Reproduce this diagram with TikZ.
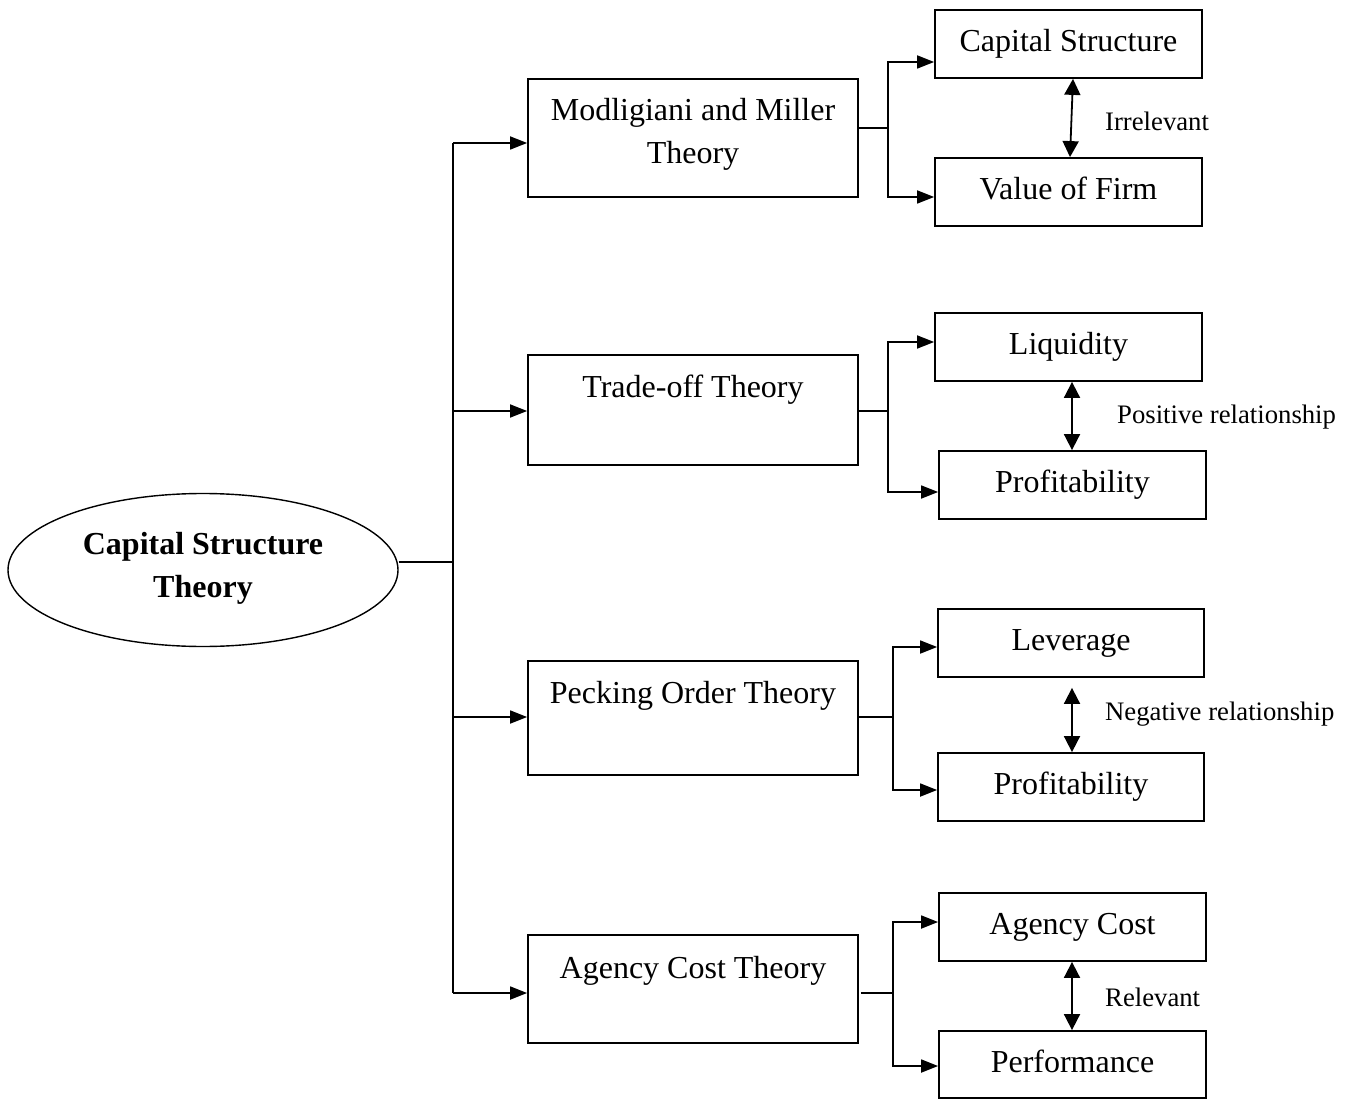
\documentclass[tikz,border=0pt]{standalone}
\usepackage{fontspec}
\setmainfont{Liberation Serif}
\usetikzlibrary{shapes.geometric,arrows.meta,calc}
\begin{document}
\begin{tikzpicture}[x=1pt,y=-1pt,
  box/.style={draw,line width=1.8pt,inner sep=0pt,minimum width=#1,minimum height=68pt,
    text height=22pt,text depth=7pt,font=\fontsize{32}{43}\selectfont},
  box/.default=267pt,
  mbox/.style={draw,line width=1.8pt,inner sep=0pt,minimum width=330pt,minimum height=#1},
  mtext/.style={font=\fontsize{32}{43}\selectfont,align=center,inner sep=0pt},
  lbl/.style={font=\fontsize{26.7}{32}\selectfont,anchor=west,inner sep=0pt},
  conn/.style={line width=1.8pt},
  arr/.style={line width=1.8pt,-{Triangle[length=17pt,width=13pt]}},
  dbl/.style={line width=1.8pt,{Triangle[length=16pt,width=16pt]}-{Triangle[length=16pt,width=16pt]}}
]
\useasboundingbox (0,0) rectangle (1355,1099);

% central ellipse
\node[ellipse,draw,line width=1.4pt,minimum width=390pt,minimum height=153pt,inner sep=0pt] (ce) at (203,570) {};
\node[mtext,font=\bfseries\fontsize{32}{43}\selectfont] (cetxt) at (203,568.5) {Capital Structure\\Theory};

% middle boxes
\node[mbox=118pt] (m1) at (693,138) {};
\node[mtext] (m1t) at (693,134.5) {Modligiani and Miller\\Theory};
\node[mbox=110pt] (m2) at (693,410) {};
\node[mtext] (m2t) at (693,390) {Trade-off Theory};
\node[mbox=114pt] (m3) at (693,718) {};
\node[mtext] (m3t) at (693,696) {Pecking Order Theory};
\node[mbox=108pt] (m4) at (693,989) {};
\node[mtext] (m4t) at (693,971) {Agency Cost Theory};

% right boxes
\node[box] (cs) at (1068.5,44) {Capital Structure};
\node[box] (vf) at (1068.5,192) {Value of Firm};
\node[box] (lq) at (1068.5,347) {Liquidity};
\node[box] (pa) at (1072.5,485) {Profitability};
\node[box=266pt] (lv) at (1071,643) {Leverage};
\node[box=266pt] (pb) at (1071,787) {Profitability};
\node[box] (ac) at (1072.5,927) {Agency Cost};
\node[box,minimum height=67pt] (pf) at (1072.5,1064.5) {Performance};

% trunk
\coordinate (tj) at (453,562);
\coordinate (tt) at (453,143);
\coordinate (tb) at (453,993);
\draw[conn] ($(ce.east)+(0,-8)$) -- (tj);
\draw[conn] (tt) -- (tb);
\draw[arr] (tt) -- ($(m1.west)+(0,5)$);
\draw[arr] (453,411) coordinate (t2) -- (m2.west |- t2);
\draw[arr] (453,717) coordinate (t3) -- (m3.west |- t3);
\draw[arr] (tb) -- (m4.west |- tb);

% group 1
\coordinate (j1) at (888,128);
\draw[conn] (m1.east |- j1) -- (j1);
\draw[arr] (j1) |- ($(cs.west)+(0,18)$);
\draw[arr] (j1) |- ($(vf.west)+(0,5)$);
\draw[dbl] ($(cs.south)+(4.5,0)$) -- ($(vf.north)+(1.5,0)$);
\node[lbl] (l1) at (1105,121) {Irrelevant};

% group 2
\coordinate (j2) at (888,411);
\draw[conn] (m2.east |- j2) -- (j2);
\draw[arr] (j2) |- ($(lq.west)+(0,-5)$);
\draw[arr] (j2) |- ($(pa.west)+(0,7)$);
\draw[dbl] ($(lq.south)+(3.5,0)$) -- ($(pa.north)+(-0.5,0)$);
\node[lbl] (l2) at (1117,417) {Positive relationship};

% group 3
\coordinate (j3) at (893,717);
\draw[conn] (m3.east |- j3) -- (j3);
\draw[arr] (j3) |- ($(lv.west)+(0,4)$);
\draw[arr] (j3) |- ($(pb.west)+(0,3)$);
\draw[dbl] ($(lv.south)+(1,10)$) -- ($(pb.north)+(1,0)$);
\node[lbl] (l3) at (1105,714) {Negative relationship};

% group 4
\coordinate (j4) at (893,993);
\draw[conn] ($(m4.east |- j4)+(2,0)$) -- (j4);
\draw[arr] (j4) |- ($(ac.west)+(0,-5)$);
\draw[arr] (j4) |- ($(pf.west)+(0,1.5)$);
\draw[dbl] ($(ac.south)+(-0.5,0)$) -- ($(pf.north)+(-0.5,0)$);
\node[lbl] (l4) at (1105,997) {Relevant};
\end{tikzpicture}
\end{document}
